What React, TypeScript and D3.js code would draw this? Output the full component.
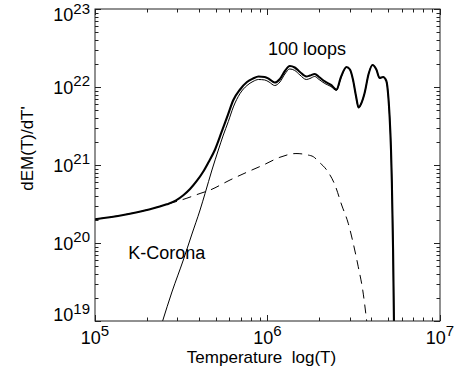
import React from "react";
import * as d3 from "d3";

// log10(T), log10(dEM/dT)
const totalLogT = [5.000, 5.164, 5.300, 5.416, 5.470, 5.512, 5.551, 5.590, 5.626, 5.657, 5.696, 5.733, 5.771, 5.802, 5.841, 5.881, 5.916, 5.948, 5.984, 6.009, 6.042, 6.072, 6.101, 6.129, 6.158, 6.188, 6.225, 6.246, 6.274, 6.299, 6.332, 6.368, 6.400, 6.426, 6.458, 6.478, 6.496, 6.513, 6.528, 6.542, 6.563, 6.586, 6.609, 6.631, 6.650, 6.670, 6.689, 6.701, 6.708, 6.716, 6.721, 6.728, 6.733];
const totalLogEM = [20.304, 20.359, 20.423, 20.496, 20.547, 20.612, 20.692, 20.795, 20.910, 21.032, 21.199, 21.417, 21.647, 21.833, 21.968, 22.064, 22.109, 22.135, 22.128, 22.103, 22.058, 22.103, 22.205, 22.269, 22.250, 22.192, 22.135, 22.147, 22.167, 22.128, 22.071, 22.026, 21.968, 22.128, 22.256, 22.224, 22.090, 21.885, 21.737, 21.782, 21.923, 22.167, 22.282, 22.224, 22.115, 22.128, 22.077, 21.859, 21.615, 21.192, 20.769, 19.910, 19.000];

const loopsLogT = [5.392, 5.446, 5.512, 5.562, 5.609, 5.638, 5.678, 5.715, 5.742, 5.773, 5.802, 5.841, 5.881, 5.916, 5.948, 5.984, 6.009, 6.042, 6.072, 6.101, 6.129, 6.158, 6.188, 6.225, 6.246, 6.274, 6.299, 6.332, 6.368, 6.400, 6.426, 6.458, 6.478, 6.496, 6.513, 6.528, 6.542, 6.563, 6.586, 6.609, 6.631, 6.650, 6.670, 6.689, 6.701, 6.708, 6.716, 6.721, 6.728, 6.733];
const loopsLogEM = [19.000, 19.372, 19.782, 20.115, 20.423, 20.635, 20.936, 21.192, 21.372, 21.558, 21.744, 21.917, 22.019, 22.071, 22.096, 22.090, 22.064, 22.019, 22.064, 22.167, 22.231, 22.212, 22.154, 22.096, 22.109, 22.135, 22.096, 22.045, 22.006, 21.955, 22.120, 22.250, 22.218, 22.086, 21.882, 21.735, 21.781, 21.922, 22.167, 22.282, 22.224, 22.115, 22.128, 22.077, 21.859, 21.615, 21.192, 20.769, 19.910, 19.000];

const coronaLogT = [5.000, 5.162, 5.301, 5.417, 5.528, 5.609, 5.667, 5.783, 5.879, 5.976, 6.072, 6.165, 6.235, 6.266, 6.299, 6.343, 6.391, 6.430, 6.468, 6.497, 6.526, 6.552, 6.575];
const coronaLogEM = [20.304, 20.359, 20.423, 20.496, 20.571, 20.635, 20.679, 20.808, 20.906, 21.000, 21.099, 21.147, 21.128, 21.106, 21.038, 20.936, 20.744, 20.487, 20.253, 19.996, 19.696, 19.397, 19.000];

const xDecades = [5, 6, 7];
const yDecades = [19, 20, 21, 22, 23];
const xTitle = "Temperature  log(T)";
const yTitle = "dEM(T)/dT'";
const loopsLabel = "100 loops";
const coronaLabel = "K-Corona";

const W = 456, H = 368;
const L = 95, R = 440, T = 9, B = 321;
const FONT = "'Liberation Sans', Arial, Helvetica, sans-serif";

export default function App() {
  const x = d3.scaleLog().domain([1e5, 1e7]).range([L, R]);
  const y = d3.scaleLog().domain([1e19, 1e23]).range([B, T]);

  const line = d3
    .line<[number, number]>()
    .x((d) => x(Math.pow(10, d[0])))
    .y((d) => y(Math.pow(10, d[1])))
    .curve(d3.curveMonotoneX);

  const zip = (a: number[], b: number[]) => a.map((v, i) => [v, b[i]] as [number, number]);

  const xt = x.ticks();
  const yt = y.ticks();
  const isMajor = (v: number) => Math.abs(Math.log10(v) - Math.round(Math.log10(v))) < 1e-6;
  const MAJ = 6, MIN = 3.5;
  const axisColor = "#222";

  return (
    <svg width={W} height={H} style={{ position: "absolute", left: 0, top: 0, display: "block", background: "#fff" }} fontFamily={FONT}>
      <defs>
        <clipPath id="plotClip">
          <rect x={L} y={T} width={R - L} height={B - T} />
        </clipPath>
      </defs>
      <g clipPath="url(#plotClip)" fill="none">
        <path d={line(zip(coronaLogT, coronaLogEM)) || ""} stroke="#000" strokeWidth={1} strokeDasharray="9,6" />
        <path d={line(zip(loopsLogT, loopsLogEM)) || ""} stroke="#000" strokeWidth={1} />
        <path d={line(zip(totalLogT, totalLogEM)) || ""} stroke="#000" strokeWidth={2.1} strokeLinejoin="round" />
      </g>
      {/* ticks */}
      <g stroke={axisColor} strokeWidth={1}>
        {xt.map((v, i) => {
          const px = Math.round(x(v)) + 0.5;
          const len = isMajor(v) ? MAJ : MIN;
          return (
            <g key={"xt" + i}>
              <line x1={px} x2={px} y1={B} y2={B - len} />
              <line x1={px} x2={px} y1={T} y2={T + len} />
            </g>
          );
        })}
        {yt.map((v, i) => {
          const py = Math.round(y(v)) + 0.5;
          const len = isMajor(v) ? MAJ : MIN;
          return (
            <g key={"yt" + i}>
              <line x1={L} x2={L + len} y1={py} y2={py} />
              <line x1={R} x2={R - len} y1={py} y2={py} />
            </g>
          );
        })}
        <rect x={L} y={T} width={R - L} height={B - T} fill="none" />
      </g>
      {/* x tick labels */}
      {xDecades.map((d) => (
        <text key={"xl" + d} x={x(Math.pow(10, d))} y={344} textAnchor="middle" fontSize={18} fill="#000">
          10<tspan dy={-8.3} fontSize={15}>{d}</tspan>
        </text>
      ))}
      {/* y tick labels */}
      {yDecades.map((d, i) => {
        const py = y(Math.pow(10, d));
        const off = i === 0 ? 0 : i === yDecades.length - 1 ? 12 : 6.5;
        return (
          <text key={"yl" + d} x={90} y={py + off} textAnchor="end" fontSize={18} fill="#000">
            10<tspan dy={-7.5} fontSize={15}>{d}</tspan>
          </text>
        );
      })}
      <text x={261.5} y={363} textAnchor="middle" fontSize={17} style={{ whiteSpace: "pre" }} fill="#000">
        {xTitle}
      </text>
      <text transform="translate(33,148.5) rotate(-90)" textAnchor="middle" fontSize={17} fill="#000">
        {yTitle}
      </text>
      <text x={268} y={55} fontSize={18} fill="#000">{loopsLabel}</text>
      <text x={128.3} y={259} fontSize={18} fill="#000">{coronaLabel}</text>
    </svg>
  );
}
